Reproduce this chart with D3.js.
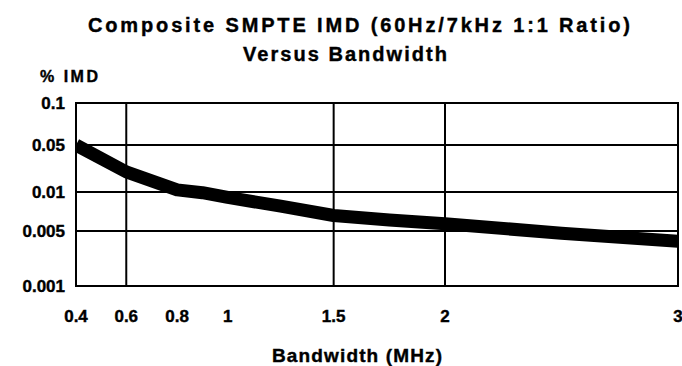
<!DOCTYPE html>
<html>
<head>
<meta charset="utf-8">
<script src="https://cdn.jsdelivr.net/npm/d3@7"></script>
<style>
  html, body { margin: 0; padding: 0; background: #fff; }
  svg { display: block; }
  text { font-family: "Liberation Sans", Arial, sans-serif; font-weight: bold; fill: #000; stroke: #000; stroke-width: 0.4; }
</style>
</head>
<body>
<svg id="chart" width="682" height="366"></svg>
<script>
// Bandwidth (MHz) and composite SMPTE IMD (%)
const bandwidth = [0.4, 0.6, 0.8, 0.9, 1, 1.25, 1.5, 1.75, 2, 2.5, 3];
const imd = [0.05, 0.02, 0.0108, 0.0099, 0.0091, 0.0078, 0.0066, 0.0061, 0.0057, 0.0047, 0.0037];

const xTicks = [0.4, 0.6, 0.8, 1, 1.5, 2, 3];
const xGrid = [0.6, 1.5, 2];
const yTicks = [0.1, 0.05, 0.01, 0.005, 0.001];
const yTickLabels = ["0.1", "0.05", "0.01", "0.005", "0.001"];
const yGrid = [0.05, 0.01, 0.005];

const titleLines = ["Composite SMPTE IMD (60Hz/7kHz 1:1 Ratio)", "Versus Bandwidth"];
const yTitle = "% IMD";
const xTitle = "Bandwidth (MHz)";

const margin = { left: 76, top: 103, right: 4, bottom: 80 };
const W = 682, H = 366;
const pw = W - margin.left - margin.right;
const ph = H - margin.top - margin.bottom;

const svg = d3.select("#chart");
const g = svg.append("g").attr("transform", `translate(${margin.left},${margin.top})`);

// The axis divisions are unevenly spaced, so both scales are piecewise.
const x = d3.scaleLinear()
  .domain(xTicks)
  .range([0, 0.0835, 0.168, 0.252, 0.428, 0.613, 1].map(f => f * pw));

const yLin = d3.scaleLinear()
  .domain([-3, -2.301, -2, -1.301, -1])
  .range([1, 0.7, 0.487, 0.23, 0].map(f => f * ph));
const y = v => yLin(Math.log10(v));

// Grid lines
g.selectAll("line.vgrid").data(xGrid).join("line")
  .attr("x1", d => x(d)).attr("x2", d => x(d))
  .attr("y1", 0).attr("y2", ph)
  .attr("stroke", "#000").attr("stroke-width", 2);

g.selectAll("line.hgrid").data(yGrid).join("line")
  .attr("x1", 0).attr("x2", pw)
  .attr("y1", d => y(d)).attr("y2", d => y(d))
  .attr("stroke", "#000").attr("stroke-width", 2);

// Plot frame
g.append("rect")
  .attr("x", 0).attr("y", 0).attr("width", pw).attr("height", ph)
  .attr("fill", "none").attr("stroke", "#000").attr("stroke-width", 2);

// Data curve, clipped to the plot area
svg.append("defs").append("clipPath").attr("id", "plotClip")
  .append("rect").attr("x", 0).attr("y", 0).attr("width", pw).attr("height", ph);

const line = d3.line()
  .x((d, i) => x(bandwidth[i]))
  .y(d => y(d));

g.append("path")
  .attr("clip-path", "url(#plotClip)")
  .attr("d", line(imd))
  .attr("fill", "none")
  .attr("stroke", "#000")
  .attr("stroke-width", 13)
  .attr("stroke-linejoin", "round");

// Y tick labels
g.selectAll("text.ytick").data(yTicks).join("text")
  .attr("x", -11)
  .attr("y", d => y(d) + 6)
  .attr("text-anchor", "end")
  .attr("font-size", 17)
  .text((d, i) => yTickLabels[i]);

// X tick labels
g.selectAll("text.xtick").data(xTicks).join("text")
  .attr("x", d => x(d))
  .attr("y", ph + 36)
  .attr("text-anchor", "middle")
  .attr("font-size", 17)
  .text(d => String(d));

// Titles
svg.append("text")
  .attr("x", 88).attr("y", 32)
  .attr("font-size", 20)
  .attr("textLength", 542).attr("lengthAdjust", "spacing")
  .text(titleLines[0]);

svg.append("text")
  .attr("x", 243).attr("y", 61)
  .attr("font-size", 20)
  .attr("textLength", 204).attr("lengthAdjust", "spacing")
  .text(titleLines[1]);

svg.append("text")
  .attr("x", 40).attr("y", 82)
  .attr("font-size", 16)
  .attr("textLength", 58).attr("lengthAdjust", "spacing")
  .text(yTitle);

svg.append("text")
  .attr("x", 272).attr("y", 362)
  .attr("font-size", 19)
  .attr("textLength", 170).attr("lengthAdjust", "spacing")
  .text(xTitle);
</script>
</body>
</html>
